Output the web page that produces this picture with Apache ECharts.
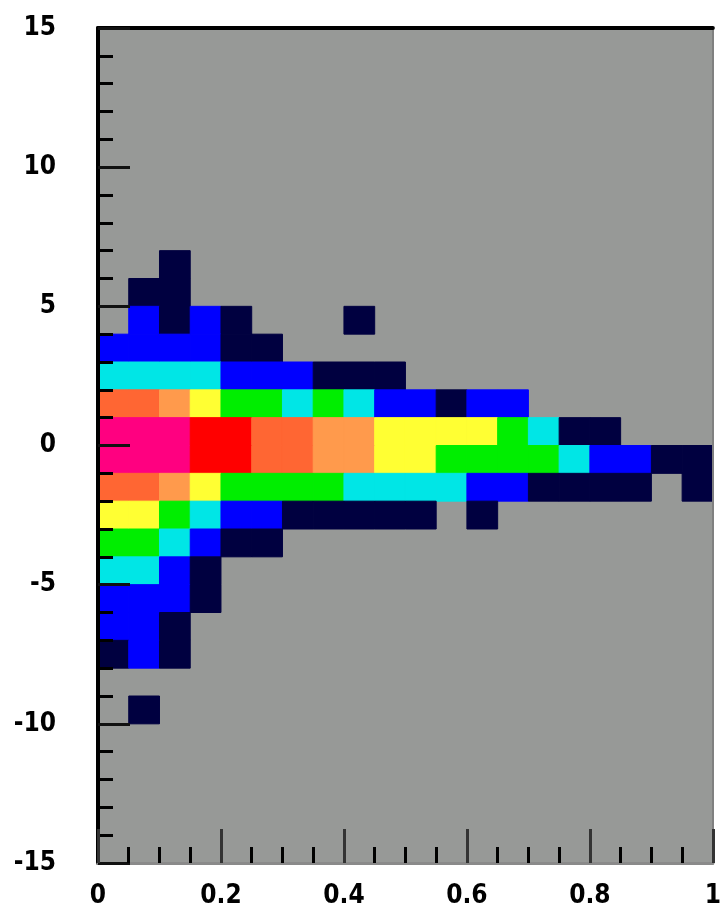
<!DOCTYPE html>
<html>
<head>
<meta charset="utf-8">
<script src="https://cdn.jsdelivr.net/npm/echarts@6/dist/echarts.min.js"></script>
<style>
html,body{margin:0;padding:0;background:#fff;}
#chart{width:724px;height:915px;}
</style>
</head>
<body>
<div id="chart"></div>
<script>
// x bins: 20 bins of width 0.05 from 0 to 1; y bins: width 1
const xBinWidth = 0.05;
const yBinWidth = 1;
const xTickLabels = ['0', '0.2', '0.4', '0.6', '0.8', '1'];
const yTickLabels = ['-15', '-10', '-5', '0', '5', '10', '15'];
// lower edge of each y bin (rows)
const rowY = [6, 5, 4, 3, 2, 1, 0, -1, -2, -3, -4, -5, -6, -7, -8, -9, -10];
// colour level of each cell per row (0 = empty), columns x = 0, 0.05, ... 0.95
const rowLevels = [
  [0,0,1,0,0,0,0,0,0,0,0,0,0,0,0,0,0,0,0,0],
  [0,1,1,0,0,0,0,0,0,0,0,0,0,0,0,0,0,0,0,0],
  [0,2,1,2,1,0,0,0,1,0,0,0,0,0,0,0,0,0,0,0],
  [2,2,2,2,1,1,0,0,0,0,0,0,0,0,0,0,0,0,0,0],
  [3,3,3,3,2,2,2,1,1,1,0,0,0,0,0,0,0,0,0,0],
  [7,7,6,5,4,4,3,4,3,2,2,1,2,2,0,0,0,0,0,0],
  [9,9,9,8,8,7,7,6,6,5,5,5,5,4,3,1,1,0,0,0],
  [9,9,9,8,8,7,7,6,6,5,5,4,4,4,4,3,2,2,1,1],
  [7,7,6,5,4,4,4,4,3,3,3,3,2,2,1,1,1,1,0,1],
  [5,5,4,3,2,2,1,1,1,1,1,0,1,0,0,0,0,0,0,0],
  [4,4,3,2,1,1,0,0,0,0,0,0,0,0,0,0,0,0,0,0],
  [3,3,2,1,0,0,0,0,0,0,0,0,0,0,0,0,0,0,0,0],
  [2,2,2,1,0,0,0,0,0,0,0,0,0,0,0,0,0,0,0,0],
  [2,2,1,0,0,0,0,0,0,0,0,0,0,0,0,0,0,0,0,0],
  [1,2,1,0,0,0,0,0,0,0,0,0,0,0,0,0,0,0,0,0],
  [0,0,0,0,0,0,0,0,0,0,0,0,0,0,0,0,0,0,0,0],
  [0,1,0,0,0,0,0,0,0,0,0,0,0,0,0,0,0,0,0,0]
];
const palette = ['#000040','#0000ff','#00e6e6','#00ee00','#ffff33','#ff9a4c','#ff6633','#ff0000','#ff0080'];

const cells = [];
rowY.forEach((y, r) => {
  rowLevels[r].forEach((lv, c) => {
    if (lv > 0) cells.push([+(c * xBinWidth).toFixed(2), y, lv]);
  });
});

const labelFont = {
  fontFamily: 'DejaVu Sans Condensed, DejaVu Sans, sans-serif',
  fontWeight: 'bold',
  fontSize: 26,
  color: '#000'
};

const chart = echarts.init(document.getElementById('chart'));
chart.setOption({
  backgroundColor: '#ffffff',
  animation: false,
  grid: {
    left: 98, right: 11, top: 28, bottom: 52,
    show: true, backgroundColor: '#979997', borderWidth: 0
  },
  visualMap: {
    show: false,
    type: 'piecewise',
    dimension: 2,
    seriesIndex: 0,
    pieces: palette.map((c, i) => ({ value: i + 1, color: c }))
  },
  xAxis: [{
    type: 'value', min: 0, max: 1, interval: 0.2, z: 10,
    axisLine: { show: true, onZero: false, lineStyle: { color: '#8a8a8a', width: 3 } },
    axisTick: { show: true, inside: true, length: 34, lineStyle: { color: '#333', width: 3 } },
    minorTick: { show: true, splitNumber: 4, length: 16, lineStyle: { color: '#000', width: 3 } },
    splitLine: { show: false },
    axisLabel: {
      margin: 20, ...labelFont,
      formatter: (v) => xTickLabels[Math.round(v / 0.2)]
    }
  }, {
    type: 'value', min: 0, max: 1, position: 'top', z: 10,
    axisLine: { show: true, onZero: false, lineStyle: { color: '#000', width: 4 } },
    axisTick: { show: false }, axisLabel: { show: false }, splitLine: { show: false }
  }],
  yAxis: [{
    type: 'value', min: -15, max: 15, interval: 5, z: 10,
    axisLine: { show: true, onZero: false, lineStyle: { color: '#000', width: 4 } },
    axisTick: { show: true, inside: true, length: 32, lineStyle: { color: '#111', width: 3 } },
    minorTick: { show: true, splitNumber: 5, length: 15, lineStyle: { color: '#000', width: 3 } },
    splitLine: { show: false },
    axisLabel: {
      margin: 42, ...labelFont,
      formatter: (v) => yTickLabels[Math.round((v + 15) / 5)]
    }
  }, {
    type: 'value', min: -15, max: 15, position: 'right', z: 10,
    axisLine: { show: true, onZero: false, lineStyle: { color: '#808080', width: 2 } },
    axisTick: { show: false }, axisLabel: { show: false }, splitLine: { show: false }
  }],
  series: [{
    type: 'custom',
    xAxisIndex: 0, yAxisIndex: 0,
    data: cells,
    encode: { x: 0, y: 1 },
    renderItem: function (params, api) {
      const x0 = api.value(0), y0 = api.value(1);
      const p1 = api.coord([x0, y0 + yBinWidth]);
      const p2 = api.coord([x0 + xBinWidth, y0]);
      const col = api.visual('color');
      return {
        type: 'rect',
        shape: { x: p1[0], y: p1[1], width: p2[0] - p1[0], height: p2[1] - p1[1] },
        style: { fill: col, stroke: col, lineWidth: 1 }
      };
    }
  }]
});
</script>
</body>
</html>
